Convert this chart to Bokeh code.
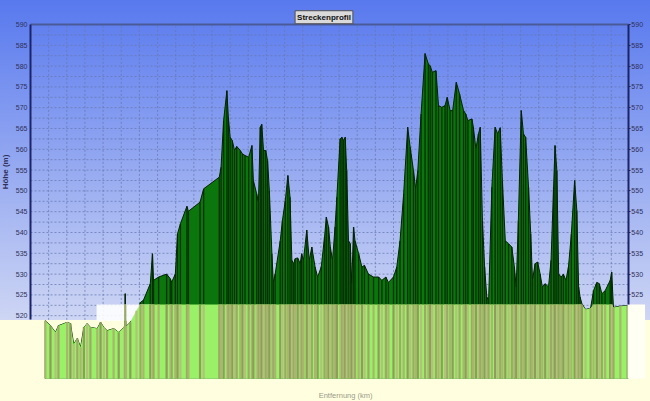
import numpy as np
from bokeh.plotting import figure
from bokeh.models import (Range1d, LinearAxis, FixedTicker, Label,
                          ColumnDataSource, GlobalInlineStyleSheet)
from bokeh.embed import file_html
from bokeh.resources import INLINE

# ---------------- data ----------------
dist_km = [0.41, 0.55, 0.69, 0.77, 1.01, 1.10, 1.19, 1.29, 1.38, 1.47, 1.56, 1.65,
           1.84, 1.93, 2.02, 2.11, 2.29, 2.43, 2.59, 2.61, 2.63, 2.75, 2.92, 3.03,
           3.11, 3.30, 3.36, 3.39, 3.53, 3.75, 3.85, 3.89, 3.99, 4.05, 4.13, 4.31,
           4.35, 4.67, 4.77, 5.20, 5.25, 5.32, 5.41, 5.45, 5.50, 5.56, 5.62, 5.68,
           5.78, 5.84, 5.91, 6.01, 6.10, 6.14, 6.23, 6.28, 6.33, 6.37, 6.42, 6.48,
           6.53, 6.58, 6.65, 6.69, 6.74, 6.88, 6.94, 7.02, 7.09, 7.15, 7.20, 7.25,
           7.29, 7.36, 7.43, 7.47, 7.52, 7.61, 7.68, 7.75, 7.84, 7.91, 8.01, 8.10,
           8.15, 8.21, 8.26, 8.32, 8.39, 8.44, 8.53, 8.58, 8.62, 8.67, 8.71, 8.76,
           8.81, 8.85, 8.90, 8.94, 9.04, 9.13, 9.20, 9.31, 9.45, 9.59, 9.68, 9.79,
           9.86, 10.00, 10.09, 10.18, 10.28, 10.39, 10.46, 10.55, 10.61, 10.67, 10.76, 10.87,
           10.96, 11.01, 11.07, 11.17, 11.24, 11.33, 11.42, 11.48, 11.56, 11.63, 11.73, 11.82,
           11.93, 11.99, 12.05, 12.16, 12.20, 12.27, 12.34, 12.39, 12.45, 12.51, 12.57, 12.62,
           12.71, 12.80, 12.87, 12.94, 13.00, 13.08, 13.17, 13.26, 13.33, 13.38, 13.44, 13.52,
           13.58, 13.64, 13.72, 13.78, 13.83, 13.90, 13.97, 14.04, 14.10, 14.18, 14.27, 14.34,
           14.41, 14.45, 14.50, 14.55, 14.62, 14.68, 14.75, 14.82, 14.90, 14.99, 15.05, 15.10,
           15.14, 15.19, 15.29, 15.43, 15.51, 15.60, 15.67, 15.74, 15.83, 15.97, 16.01, 16.06,
           16.25, 16.45]
elev_m = [518.8, 517.6, 516.0, 517.6, 518.4, 518.1, 513.2, 514.5, 512.4, 517.2, 518.1, 517.2,
          516.9, 518.4, 517.2, 516.4, 516.9, 516.0, 517.4, 525.3, 517.4, 518.4, 521.2, 523.2,
          523.7, 527.7, 534.9, 528.5, 529.3, 530.0, 528.9, 528.1, 530.0, 539.7, 542.1, 546.3,
          545.1, 547.3, 550.5, 553.3, 555.7, 566.9, 574.1, 567.7, 562.9, 562.1, 559.7, 560.7,
          559.7, 558.9, 558.5, 558.1, 560.9, 552.5, 549.3, 547.3, 565.3, 566.0, 559.7, 559.7,
          557.3, 550.1, 534.9, 528.0, 530.0, 538.0, 542.9, 547.7, 553.7, 548.5, 533.3, 532.5,
          533.7, 533.9, 532.5, 534.9, 533.3, 540.6, 533.3, 536.5, 531.7, 529.3, 531.7, 538.9,
          543.7, 541.3, 536.5, 533.3, 541.3, 548.5, 562.5, 562.9, 562.1, 562.9, 554.9, 538.0,
          537.3, 527.7, 541.3, 538.0, 534.9, 531.7, 532.1, 530.0, 529.3, 529.3, 528.5, 529.3,
          528.0, 529.3, 531.7, 538.0, 549.3, 565.3, 560.5, 554.9, 550.5, 554.9, 568.5, 583.0,
          580.5, 580.1, 578.5, 578.9, 570.5, 570.1, 570.5, 572.5, 569.3, 569.3, 576.1, 573.3,
          569.3, 568.5, 566.9, 567.3, 565.3, 560.1, 563.7, 565.3, 542.9, 531.7, 524.5, 523.7,
          550.9, 565.3, 563.7, 565.2, 552.5, 538.0, 537.3, 536.5, 531.7, 526.9, 542.9, 569.3,
          563.7, 562.9, 550.9, 539.7, 528.5, 532.5, 532.9, 530.0, 526.9, 527.7, 526.9, 533.3,
          550.9, 560.9, 554.9, 530.0, 529.3, 530.0, 528.5, 531.7, 539.7, 552.5, 545.3, 526.9,
          524.5, 522.9, 521.5, 521.8, 526.0, 528.0, 527.7, 525.3, 526.0, 528.5, 530.5, 522.0,
          522.3, 522.4]

y_ticks = [520, 525, 530, 535, 540, 545, 550, 555, 560, 565, 570, 575, 580, 585, 590]
route_end_km = 16.47
title_text = "Streckenprofil"
y_label = "Höhe (m)"
x_label = "Entfernung (km)"

# ---------------- layout / style ----------------
W, H = 650, 401
PX_KM, PX_M = 36.3, 4.16
x_lo = -30 / PX_KM
x_hi = x_lo + W / PX_KM
y_hi = 590 + 24 / PX_M
y_lo = y_hi - H / PX_M
Y_MIN, Y_MAX = 520, 590
band_top, band_bot = 522.7, 504.9   # the washed-out strip at the bottom

FONT = "Liberation Sans"
grad = ("linear-gradient(to bottom, rgb(88,121,238) 0px, rgb(206,214,244) 320px, "
        "#FFFFE0 320px, #FFFFE0 100%)")

p = figure(width=W, height=H, output_backend="svg", toolbar_location=None,
           x_range=Range1d(x_lo, x_hi), y_range=Range1d(y_lo, y_hi),
           x_axis_type=None, y_axis_type=None, min_border=0,
           background_fill_color=None, border_fill_color=None,
           outline_line_color=None)
p.styles = {"background": grad}
p.stylesheets = [GlobalInlineStyleSheet(css="html, body { background: " + grad + "; }")]

# grid (dashed)
x_grid = [k * 0.5 for k in range(1, 33)]
y_grid = [Y_MIN + 2.5 * k for k in range(0, 28)]
p.segment(x0=x_grid, y0=Y_MIN - 1, x1=x_grid, y1=Y_MAX, line_color="#6878B0",
          line_alpha=0.75, line_dash="2 2", line_width=1, level="underlay")
p.segment(x0=0, y0=y_grid, x1=route_end_km, y1=y_grid, line_color="#6878B0",
          line_alpha=0.75, line_dash="2 2", line_width=1, level="underlay")

x = np.array(dist_km)
e = np.array(elev_m)
src = ColumnDataSource(dict(x=x, top=e, base=np.full(len(x), band_bot),
                            gtop=np.minimum(e, band_top),
                            stripe=[["#A8B66E", "#8E9C5C", "#B2C27A", "#9CAA66"][i % 4]
                                    for i in range(len(x))]))

# elevation profile
p.varea(x="x", y1="base", y2="top", source=src, fill_color="#0B760B")
p.segment(x0="x", y0="base", x1="x", y1="top", source=src,
          line_color="#032403", line_alpha=0.85, line_width=1.3)
p.line(x="x", y="top", source=src, line_color="#032203", line_width=1)

# washed-out strip
p.quad(left=[1.82], right=[3.31], bottom=[518.8], top=[band_top],
       fill_color="white", line_color=None, fill_alpha=0.9)
p.varea(x="x", y1="base", y2="gtop", source=src, fill_color="#9AF066")
p.segment(x0="x", y0="base", x1="x", y1="gtop", source=src,
          line_color="stripe", line_width=2.2)
p.quad(left=[16.45], right=[16.93], bottom=[band_bot], top=[band_top],
       fill_color="#FFFFF4", line_color=None)

# axes
def style_axis(ax):
    ax.major_label_text_font = FONT
    ax.major_label_text_font_size = "7px"
    ax.major_label_text_color = "#30305A"
    ax.minor_tick_line_color = None
    ax.axis_line_color = "#1C2468"
    ax.axis_line_width = 2
    ax.major_tick_line_color = "#1C2468"

yl = LinearAxis(fixed_location=0, bounds=(Y_MIN - 1, Y_MAX),
                ticker=FixedTicker(ticks=y_ticks))
style_axis(yl)
yl.major_tick_out = 0
yl.major_tick_in = 0
yl.major_label_standoff = 3
yl.axis_label = y_label
yl.axis_label_text_font = FONT
yl.axis_label_text_font_size = "8px"
yl.axis_label_text_font_style = "bold"
yl.axis_label_text_color = "#30305A"
yl.axis_label_standoff = 3
p.add_layout(yl, "left")

# right axis: its lowest label is hidden by the washed-out strip
yr = LinearAxis(fixed_location=route_end_km, bounds=(band_top, Y_MAX),
                ticker=FixedTicker(ticks=[t for t in y_ticks if t > band_top]))
style_axis(yr)
yr.major_tick_out = 2
yr.major_tick_in = 0
yr.major_label_standoff = 1
p.add_layout(yr, "right")

top_line = LinearAxis(fixed_location=Y_MAX, bounds=(0, route_end_km),
                      ticker=FixedTicker(ticks=[]))
top_line.axis_line_color = "#4A5A98"
top_line.axis_line_width = 2
top_line.major_tick_line_color = None
top_line.minor_tick_line_color = None
top_line.major_label_text_color = None
p.add_layout(top_line, "above")

# title box and x label
p.add_layout(Label(x=8.085, y=591.75, text=title_text,
                   text_font=FONT, text_font_size="8px", text_font_style="bold",
                   text_color="#101010", text_align="center", text_baseline="middle",
                   background_fill_color="#DADADA", border_line_color="#505050",
                   padding=2))
p.add_layout(Label(x=8.68, y=590 - 371 / PX_M, text=x_label, text_font=FONT,
                   text_font_size="7.5px", text_color="#9A9A88",
                   text_align="center", text_baseline="middle"))

open("out.html", "w").write(file_html(p, INLINE))
